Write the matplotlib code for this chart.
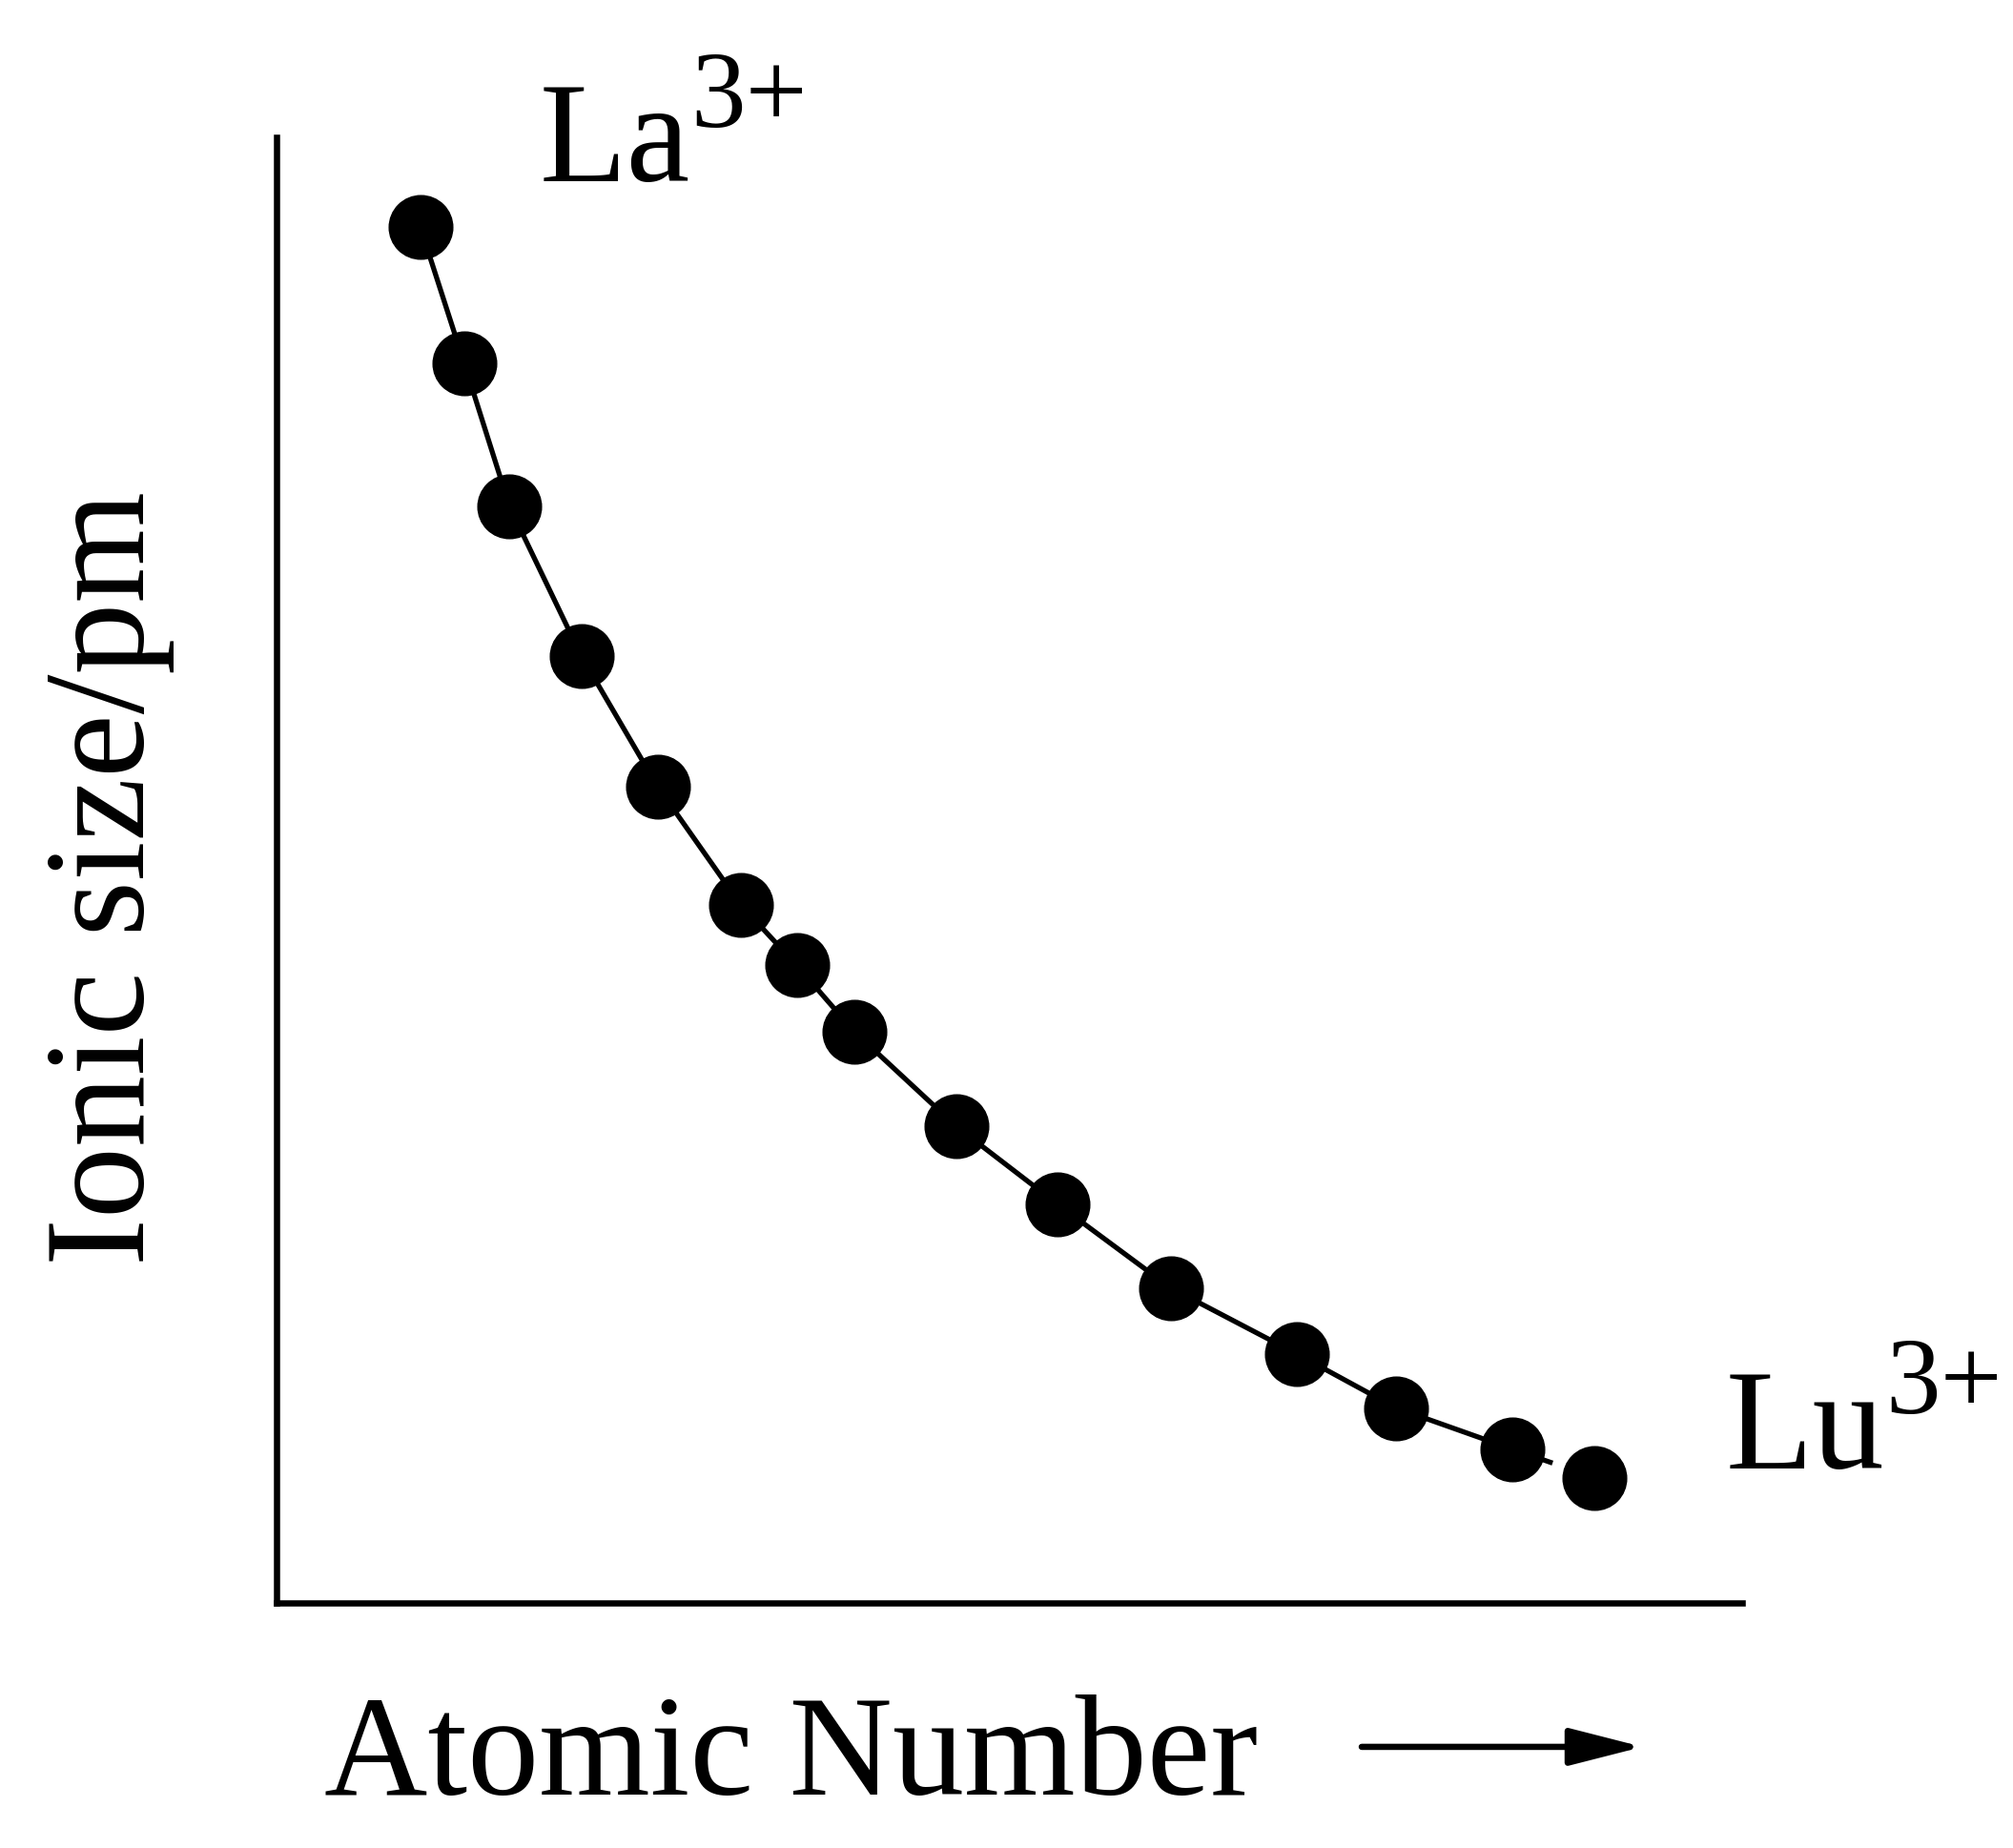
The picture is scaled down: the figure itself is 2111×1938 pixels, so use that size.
import matplotlib
matplotlib.use("Agg")
import matplotlib.pyplot as plt

# lanthanide contraction sketch, axis units are arbitrary (0-100)
atomic_pos = [9.8, 12.8, 15.9, 20.8, 26.0, 31.7, 35.5, 39.4, 46.4, 53.3, 61.0, 69.6, 76.4, 84.3, 89.9]
ionic_size = [93.9, 84.6, 74.8, 64.6, 55.7, 47.6, 43.5, 39.0, 32.5, 27.2, 21.5, 17.0, 13.3, 10.5, 8.5]

# trend curve stops a little past the 14th ion
curve_x = atomic_pos[:14] + [86.9]
curve_y = ionic_size[:14] + [9.6]

first_ion = "La"
last_ion = "Lu"
charge = "3+"

plt.rcParams['font.family'] = ['Liberation Serif', 'DejaVu Serif']

fig = plt.figure(figsize=(21.11, 19.38), dpi=100)
ax = fig.add_axes([290/2111, (1938-1681)/1938, 1537/2111, 1537/1938])

ax.plot(curve_x, curve_y, color='black', lw=3.8, zorder=2)
ax.plot(atomic_pos, ionic_size, 'o', color='black', markersize=48, zorder=3)

ax.set_xlim(0, 100)
ax.set_ylim(0, 100)
ax.set_xticks([])
ax.set_yticks([])
for s in ['top', 'right']:
    ax.spines[s].set_visible(False)
for s in ['left', 'bottom']:
    ax.spines[s].set_linewidth(4.7)

# ion labels with raised charge
ax.text(17.96, 97.0, first_ion, fontsize=108, ha='left', va='baseline')
ax.text(28.24, 100.7, charge, fontsize=83, ha='left', va='baseline')
ax.text(98.9, 9.17, last_ion, fontsize=108, ha='left', va='baseline')
ax.text(109.8, 12.95, charge, fontsize=83, ha='left', va='baseline')

ax.set_xlabel("Atomic Number", fontsize=108, ha='left', va='baseline')
ax.xaxis.set_label_coords(0.0325, -0.1308)
ax.set_ylabel("Ionic size/pm", fontsize=108, ha='center', va='baseline',
              rotation_mode='anchor')
ax.yaxis.set_label_coords(-0.0904, 0.4945)

ax.annotate('', xy=(0.932, -0.0982), xytext=(0.7404, -0.0982),
            xycoords='axes fraction', textcoords='axes fraction',
            arrowprops=dict(arrowstyle='-|>,head_length=4.7,head_width=1.2',
                            lw=4.7, color='black', mutation_scale=10,
                            shrinkA=0, shrinkB=0))

plt.savefig('out.png', dpi=100)
